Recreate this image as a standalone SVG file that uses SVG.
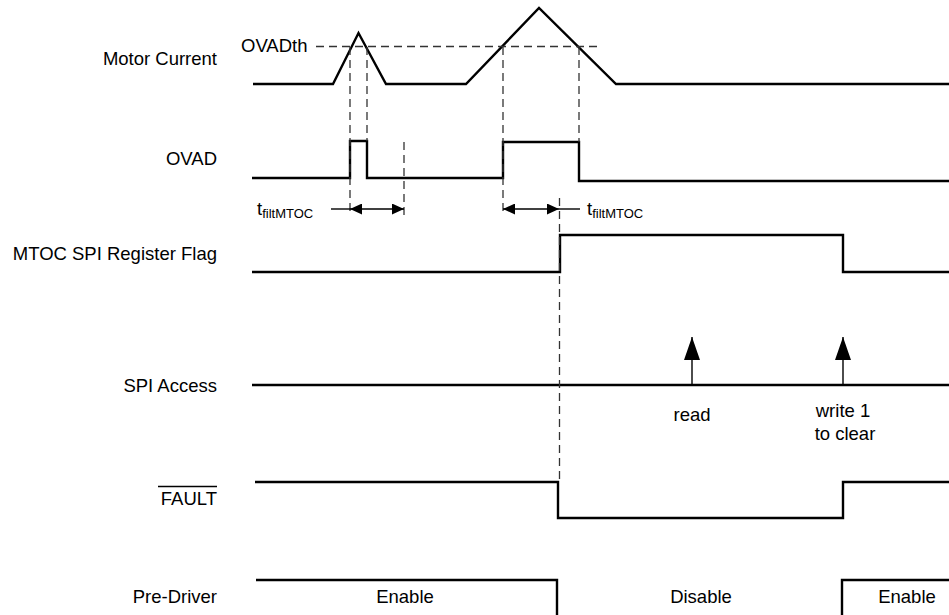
<svg xmlns="http://www.w3.org/2000/svg" width="949" height="615" viewBox="0 0 949 615">
<style>
text{font-family:"Liberation Sans",Arial,sans-serif;font-size:18.5px;fill:#000}
.lbl{text-anchor:end}
.mid{text-anchor:middle}
.sig{fill:none;stroke:#000;stroke-width:2.4;stroke-linejoin:miter}
.dash{fill:none;stroke:#333;stroke-width:1.3;stroke-dasharray:8 5}
.thin{fill:none;stroke:#000;stroke-width:1.4}
.sub{font-size:13px}
</style>
<defs>
<marker id="ah" viewBox="0 0 12 11" refX="12" refY="5.5" markerWidth="12" markerHeight="11" markerUnits="userSpaceOnUse" orient="auto-start-reverse">
<path d="M0,0 L12,5.5 L0,11 Z" fill="#000"/>
</marker>
<marker id="up" viewBox="0 0 16 23" refX="8" refY="0" markerWidth="16" markerHeight="23" markerUnits="userSpaceOnUse" orient="0">
<path d="M8,0 L16,23 L0,23 Z" fill="#000"/>
</marker>
</defs>
<rect width="949" height="615" fill="#fff"/>
<g id="motor-current">
<text class="lbl" x="217" y="65">Motor Current</text>
<path class="sig" d="M253,84 L333,84 L358.5,33 L386,84 L466,84 L539,8 L616,84 L949,84"/>
<text x="241" y="52">OVADth</text>
</g>
<g id="ovad">
<text class="lbl" x="217" y="165">OVAD</text>
<path class="sig" d="M252,178 L350,178 L350,141 L367,141 L367,178 L503,178 L503,142 L579,142 L579,181 L949,181"/>
</g>
<g id="mtoc-flag">
<text class="lbl" x="217" y="260">MTOC SPI Register Flag</text>
<path class="sig" d="M252,272 L560,272 L560,235 L843,235 L843,272 L949,272"/>
</g>
<g id="spi-access">
<text class="lbl" x="217" y="392">SPI Access</text>
<path class="sig" d="M252,385 L949,385"/>
<text class="mid" x="692" y="421">read</text>
<text class="mid" x="843" y="417">write 1</text>
<text class="mid" x="845" y="440">to clear</text>
</g>
<g id="fault">
<text class="lbl" x="217" y="505">FAULT</text>
<line x1="158" y1="486.5" x2="217" y2="486.5" stroke="#000" stroke-width="1.3"/>
<path class="sig" d="M255,482 L558,482 L558,518 L843,518 L843,482 L949,482"/>
</g>
<g id="pre-driver">
<text class="lbl" x="217" y="603">Pre-Driver</text>
<path class="sig" d="M256,580 L557,580 L557,617"/>
<path class="sig" d="M842,617 L842,580 L949,580"/>
<text class="mid" x="405" y="603">Enable</text>
<text class="mid" x="701" y="603">Disable</text>
<text class="mid" x="907" y="603">Enable</text>
</g>
<g id="connectors">
<line class="dash" x1="316" y1="46.5" x2="598" y2="46.5"/>
<line class="dash" x1="350" y1="47" x2="350" y2="216"/>
<line class="dash" x1="367" y1="47" x2="367" y2="141"/>
<line class="dash" x1="503" y1="47" x2="503" y2="216"/>
<line class="dash" x1="579" y1="47" x2="579" y2="142"/>
<line class="dash" x1="404" y1="142" x2="404" y2="216"/>
<line class="dash" x1="559.5" y1="198" x2="559.5" y2="482"/>
<line class="thin" x1="331" y1="209" x2="350" y2="209"/>
<line class="thin" x1="350" y1="209" x2="404" y2="209" marker-start="url(#ah)" marker-end="url(#ah)"/>
<line class="thin" x1="503" y1="209" x2="559" y2="209" marker-start="url(#ah)" marker-end="url(#ah)"/>
<line class="thin" x1="559" y1="209" x2="580" y2="209"/>
<line class="thin" x1="692" y1="385" x2="692" y2="337" marker-end="url(#up)"/>
<line class="thin" x1="843" y1="385" x2="843" y2="337" marker-end="url(#up)"/>
<text x="257" y="215">t<tspan class="sub" dy="3">filtMTOC</tspan></text>
<text x="587" y="215">t<tspan class="sub" dy="3">filtMTOC</tspan></text>
</g>
</svg>
